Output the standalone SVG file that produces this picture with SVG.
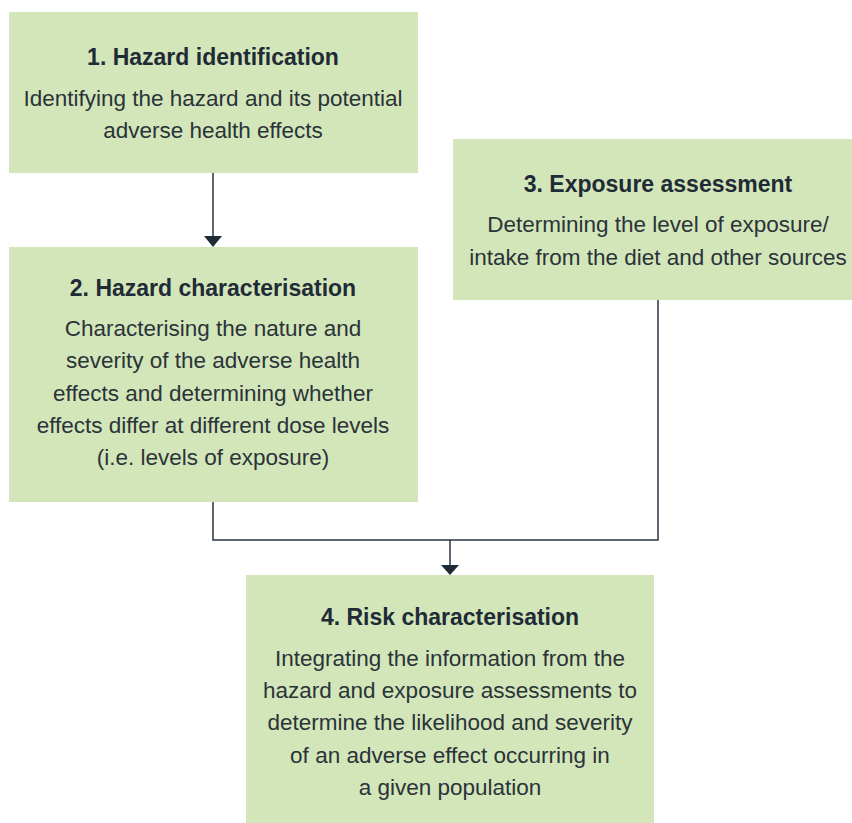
<svg xmlns="http://www.w3.org/2000/svg" width="852" height="823" viewBox="0 0 852 823">
<style>
.box{fill:#d3e6b9}
.t{font-family:"Liberation Sans",Arial,sans-serif;font-size:23px;font-weight:bold;fill:#1f2b36;text-anchor:middle}
.b{font-family:"Liberation Sans",Arial,sans-serif;font-size:22.5px;fill:#2b3339;text-anchor:middle}
.c{fill:none;stroke:#2b3440;stroke-width:1.5}
.ah{fill:#1f2b36}
</style>
<rect width="852" height="823" fill="#ffffff"/>
<g id="n1">
<rect class="box" x="9" y="12" width="409" height="161"/>
<text class="t" x="213" y="65">1. Hazard identification</text>
<text class="b" x="213" y="106">Identifying the hazard and its potential</text>
<text class="b" x="213" y="138">adverse health effects</text>
</g>
<g id="n2">
<rect class="box" x="9" y="247" width="409" height="255"/>
<text class="t" x="213" y="296">2. Hazard characterisation</text>
<text class="b" x="213" y="336">Characterising the nature and</text>
<text class="b" x="213" y="368">severity of the adverse health</text>
<text class="b" x="213" y="401">effects and determining whether</text>
<text class="b" x="213" y="433">effects differ at different dose levels</text>
<text class="b" x="213" y="465">(i.e. levels of exposure)</text>
</g>
<g id="n3">
<rect class="box" x="453" y="139" width="399" height="161"/>
<text class="t" x="658" y="192">3. Exposure assessment</text>
<text class="b" x="658" y="232">Determining the level of exposure/</text>
<text class="b" x="658" y="265">intake from the diet and other sources</text>
</g>
<g id="n4">
<rect class="box" x="246" y="575" width="408" height="248"/>
<text class="t" x="450" y="625">4. Risk characterisation</text>
<text class="b" x="450" y="666">Integrating the information from the</text>
<text class="b" x="450" y="698">hazard and exposure assessments to</text>
<text class="b" x="450" y="730">determine the likelihood and severity</text>
<text class="b" x="450" y="763">of an adverse effect occurring in</text>
<text class="b" x="450" y="795">a given population</text>
</g>
<g id="connectors">
<path class="c" d="M213,173 V236"/>
<path class="ah" d="M204,236 H222 L213,247 Z"/>
<path class="c" d="M213,502 V540 H658 V300"/>
<path class="c" d="M450,540 V565"/>
<path class="ah" d="M441,565 H459 L450,575 Z"/>
</g>
</svg>
